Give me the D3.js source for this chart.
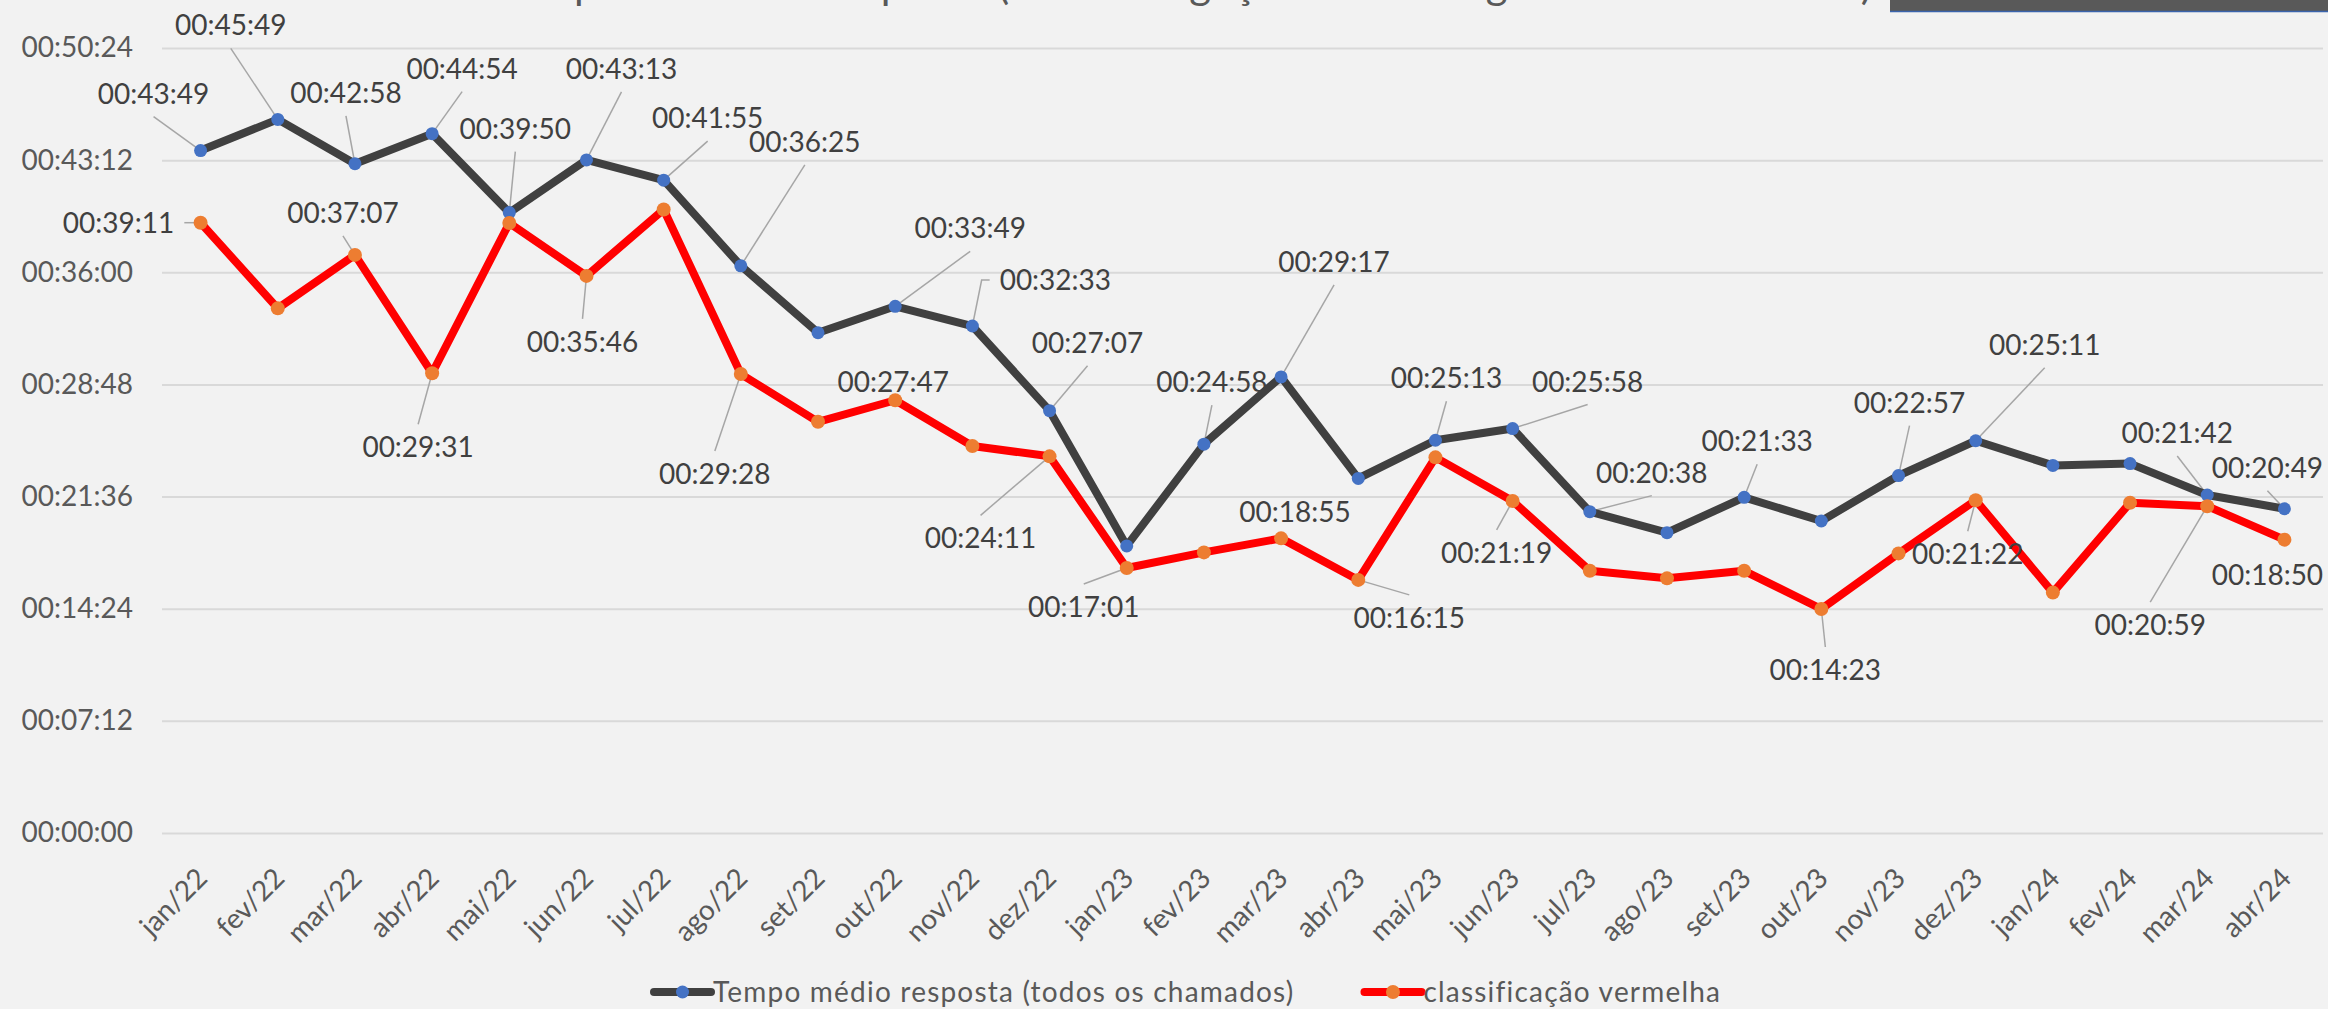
<!DOCTYPE html>
<html><head><meta charset="utf-8">
<script src="https://cdn.jsdelivr.net/npm/d3@7"></script>
<style>
html,body{margin:0;padding:0;background:#F2F2F2;overflow:hidden}
svg{display:block}
text{font-family:Lato,"Open Sans",sans-serif}
</style></head><body>
<svg id="c" width="2328" height="1009"></svg>
<script>
// ---------- data ----------
const categories = ["jan/22","fev/22","mar/22","abr/22","mai/22","jun/22","jul/22","ago/22","set/22","out/22","nov/22","dez/22",
  "jan/23","fev/23","mar/23","abr/23","mai/23","jun/23","jul/23","ago/23","set/23","out/23","nov/23","dez/23",
  "jan/24","fev/24","mar/24","abr/24"];
const seriesNames = ["Tempo médio resposta (todos os chamados)", "classificação vermelha"];
const tempoMedio = ["00:43:49","00:45:49","00:42:58","00:44:54","00:39:50","00:43:13","00:41:55","00:36:25","00:32:07","00:33:49","00:32:33","00:27:07",
  "00:18:26","00:24:58","00:29:17","00:22:46","00:25:13","00:25:58","00:20:38","00:19:17","00:21:33","00:20:02","00:22:57","00:25:11",
  "00:23:36","00:23:43","00:21:42","00:20:49"];
const classVermelha = ["00:39:11","00:33:41","00:37:07","00:29:31","00:39:10","00:35:46","00:40:02","00:29:28","00:26:24","00:27:47","00:24:51","00:24:11",
  "00:17:01","00:18:01","00:18:55","00:16:15","00:24:07","00:21:19","00:16:50","00:16:21","00:16:50","00:14:23","00:17:57","00:21:22",
  "00:15:26","00:21:12","00:20:59","00:18:50"];
const yTickLabels = ["00:00:00","00:07:12","00:14:24","00:21:36","00:28:48","00:36:00","00:43:12","00:50:24"];
const titleText = "Tempo médio de resposta (desde a ligação até a chegada da ambulância)";

// ---------- layout (label placement relative to point: dx, dy, leader side) ----------
const labelLayoutTempo = [[-47,-57,"b"],[-47,-94,"b"],[-9,-71,"b"],[30,-65,"b"],[6,-84,"b"],[35,-91,"b"],[44,-62,"b"],[64,-124,"b"],null,
  [75,-78,"b"],[83,-46,"l"],[38,-68,"b"],null,[8,-62,"b"],[53,-115,"b"],null,[11,-62,"b"],[75,-47,"b"],[62,-39,"b"],null,
  [13,-56,"b"],null,[11,-73,"b"],[69,-96,"b"],null,null,[-30,-62,"b"],[-17,-41,"b"]];
const labelLayoutVermelha = [[-82,0,"r"],null,[-12,-42,"b"],[-14,74,"t"],null,[-4,66,"t"],null,[-26,100,"t"],null,
  [-2,-18,"n"],null,[-69,82,"t"],[-43,39,"t"],null,[14,-26,"n"],[51,38,"t"],null,[-16,52,"t"],null,null,null,
  [4,61,"t"],null,[-8,54,"t"],null,null,[-57,119,"t"],[-17,35,"n"]];

// ---------- helpers ----------
const toSec = s => { const [h,m,ss] = s.split(":").map(Number); return h*3600 + m*60 + ss; };
const fmt = v => { v = Math.round(v); const h = Math.floor(v/3600), m = Math.floor((v%3600)/60), s = v%60;
  return [h,m,s].map(d => String(d).padStart(2,"0")).join(":"); };

const W = 2328, H = 1009;
const plotL = 162, plotR = 2323, plotT = 48, plotB = 833;
const FS = 28;
const svg = d3.select("#c");

svg.append("rect").attr("width",W).attr("height",H).attr("fill","#F2F2F2");

// cut-off title + top-right shape
svg.append("text").attr("x",495).attr("y",-1.5).attr("textLength",1377).attr("lengthAdjust","spacing")
  .attr("fill","#595959").style("font-size","42px").text(titleText);
svg.append("rect").attr("x",1890).attr("y",0).attr("width",W-1890).attr("height",11).attr("fill","#595959");
svg.append("line").attr("x1",1890).attr("x2",W).attr("y1",11.5).attr("y2",11.5).attr("stroke","#3B64AD").attr("stroke-width",1.5);

const x = d3.scalePoint().domain(categories).range([plotL, plotR]).padding(0.5);
const y = d3.scaleLinear().domain([0, toSec(yTickLabels[yTickLabels.length-1])]).range([plotB, plotT]);

// y axis with gridlines
const gy = svg.append("g").attr("transform",`translate(${plotL},0)`)
  .call(d3.axisLeft(y).tickValues(yTickLabels.map(toSec)).tickFormat(fmt)
    .tickSizeInner(-(plotR-plotL)).tickSizeOuter(0).tickPadding(29));
gy.select(".domain").remove();
gy.selectAll(".tick line").attr("stroke","#D9D9D9").attr("stroke-width",2);
gy.selectAll(".tick text").attr("fill","#595959").style("font-size",FS+"px");

// x axis
const gx = svg.append("g").attr("transform",`translate(0,${plotB})`)
  .call(d3.axisBottom(x).tickSize(0).tickPadding(0));
gx.select(".domain").remove();
gx.selectAll(".tick text").attr("y",0).attr("dy",0).attr("text-anchor","end")
  .attr("transform","translate(8,47) rotate(-45)")
  .attr("fill","#595959").style("font-size",FS+"px");

const series = [
  {name: seriesNames[0], values: tempoMedio.map(toSec), layout: labelLayoutTempo, line:"#404040", marker:"#4472C4", r:6.5},
  {name: seriesNames[1], values: classVermelha.map(toSec), layout: labelLayoutVermelha, line:"#FF0000", marker:"#ED7D31", r:7}
];

const gLead = svg.append("g");
const gSeries = svg.append("g");
const gLab = svg.append("g");

const lineGen = d3.line().x((d,i) => x(categories[i])).y(d => y(d));

series.forEach(s => {
  gSeries.append("path").datum(s.values).attr("d", lineGen).attr("fill","none")
    .attr("stroke", s.line).attr("stroke-width", 8).attr("stroke-linejoin","round").attr("stroke-linecap","round");
  gSeries.selectAll(null).data(s.values).join("circle")
    .attr("cx",(d,i)=>x(categories[i])).attr("cy",d=>y(d)).attr("r",s.r).attr("fill",s.marker);

  s.values.forEach((v,i) => {
    const L = s.layout[i]; if (!L) return;
    const px = x(categories[i]), py = y(v);
    const cx = px + L[0], cy = py + L[1];
    const t = gLab.append("text").attr("x",cx).attr("y",cy).attr("dy","0.36em").attr("text-anchor","middle")
      .attr("fill","#404040").style("font-size",FS+"px").text(fmt(v));
    const tw = t.node().getComputedTextLength();
    let pts = null;
    if (L[2] === "b") pts = [[cx, cy+23],[px,py]];
    else if (L[2] === "t") pts = [[cx, cy-23],[px,py]];
    else if (L[2] === "l") pts = [[cx-tw/2-10, cy],[cx-tw/2-18, cy],[px,py]];
    else if (L[2] === "r") pts = [[cx+tw/2+10, cy],[px,py]];
    if (pts) gLead.append("path").attr("d", d3.line()(pts)).attr("fill","none")
      .attr("stroke","#A6A6A6").attr("stroke-width",1.5);
  });
});

// legend
const legY = 992;
let lx = 654;
series.forEach(s => {
  const g = svg.append("g");
  g.append("line").attr("x1",lx).attr("x2",lx+57).attr("y1",legY).attr("y2",legY)
    .attr("stroke",s.line).attr("stroke-width",8).attr("stroke-linecap","round");
  g.append("circle").attr("cx",lx+28.5).attr("cy",legY).attr("r",s.r).attr("fill",s.marker);
  const t = g.append("text").attr("x",lx+59).attr("y",legY).attr("dy","0.36em")
    .attr("fill","#595959").style("font-size","28px").style("letter-spacing","1.2px").text(s.name);
  lx = lx + 59 + t.node().getComputedTextLength() + 70;
});
</script>
</body></html>
